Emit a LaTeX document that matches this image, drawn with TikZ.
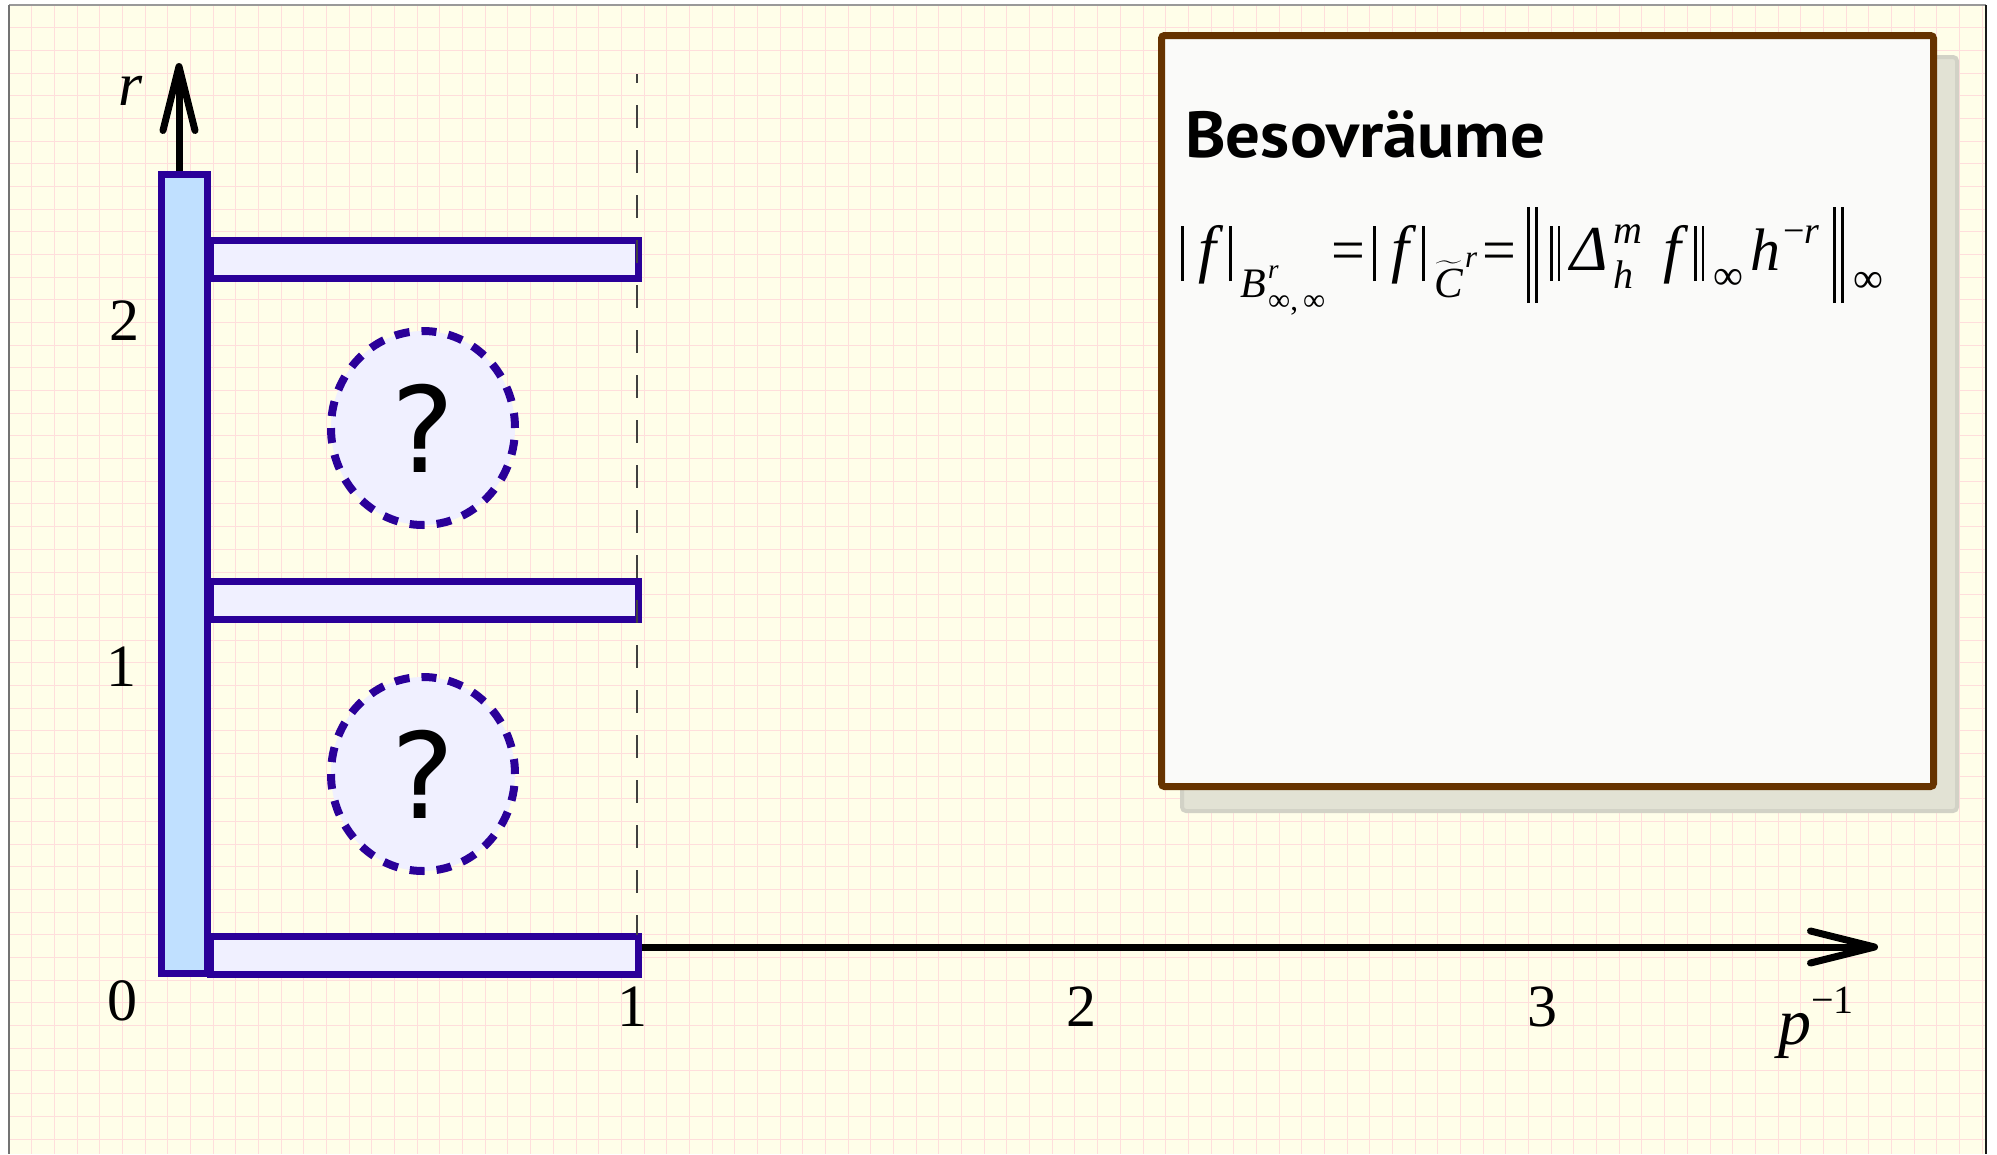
\documentclass[tikz,border=0pt]{standalone}
\usepackage{fix-cm}
\usepackage{amsmath}
\usepackage{fontspec}
\setmainfont{Liberation Serif}
\newfontfamily\titlefont{PT Sans}[FakeStretch=1.06]
\newfontfamily\qfont{DejaVu Sans}
\usetikzlibrary{arrows.meta,shapes.geometric}
\definecolor{cream}{HTML}{FFFEE9}
\definecolor{gridpink}{HTML}{FFDEDC}
\definecolor{indigo}{HTML}{2A0099}
\definecolor{lightblue}{HTML}{C0E0FF}
\definecolor{lavender}{HTML}{F0F0FF}
\definecolor{brown}{HTML}{663300}
\definecolor{boxfill}{HTML}{FAFAF9}
\definecolor{shadowfill}{HTML}{E2E2D4}
\definecolor{shadowline}{HTML}{D2D2C6}
\newcommand\fsz[1]{\fontsize{#1}{#1}\selectfont}
\newcommand\nbar{\rule[-11pt]{2.4pt}{55pt}}
\newcommand\dnbar{\rule[-11pt]{2.4pt}{55pt}\kern5pt\rule[-11pt]{2.4pt}{55pt}}
\newcommand\bignbar{\rule[-33pt]{2.4pt}{96pt}\kern5.5pt\rule[-33pt]{2.4pt}{96pt}}
\newcommand\putat[3]{\rlap{\kern#1pt\raisebox{#2pt}{#3}}}
\tikzset{
  gridline/.style={draw=gridpink, line width=1pt},
  vbarbox/.style={rectangle, draw=indigo, fill=lightblue, line width=7pt, inner sep=0pt, minimum width=46pt, minimum height=799pt},
  hbarbox/.style={rectangle, draw=indigo, fill=lavender, line width=7pt, inner sep=0pt, minimum width=428pt, minimum height=38pt},
  qcirc/.style={ellipse, draw=indigo, fill=lavender, line width=8pt, dash pattern=on 15pt off 12pt, inner sep=0pt, minimum width=184pt, minimum height=194pt, font=\qfont\fontsize{119}{119}\selectfont},
  axisarrow/.style={line width=7pt, -{Straight Barb[length=64pt,width=32pt,round]}},
  ticklabel/.style={inner sep=0pt, font=\fontsize{60}{60}\selectfont},
  dline/.style={draw=black!75, line width=1.5pt, dash pattern=on 23pt off 22pt, dash phase=14pt},
  infobox/.style={rectangle, draw=brown, fill=boxfill, line width=7pt, rounded corners=3pt, inner sep=0pt, minimum width=772pt, minimum height=751pt}
}
\begin{document}
\begin{tikzpicture}[x=1pt,y=-1pt]
\useasboundingbox (0,0) rectangle (1997,1154);
\fill[white] (0,0) rectangle (1997,1154);
\fill[cream] (9,5) rectangle (1986,1154);
\foreach \i in {1,...,87} \draw[gridline] ({9+22.68*\i},5) -- ({9+22.68*\i},1154);
\foreach \j in {1,...,50} \draw[gridline] (9,{5+22.68*\j}) -- (1986,{5+22.68*\j});
% frame
\draw[black!40, line width=2pt] (9,5) -- (1986,5);
\draw[black!55, line width=2.5pt] (9,5) -- (9,1154);
\draw[black!90, line width=2.5pt] (1986,5) -- (1986,1154);

% info box with shadow
\draw[fill=shadowfill, draw=shadowline, line width=4pt, rounded corners=4pt] (1182,57) rectangle (1957,811);
\node[infobox] (box) at (1547.5,411) {};
\node[anchor=base west, inner sep=0pt, font=\titlefont\bfseries\fontsize{65}{70}\selectfont] (title) at (1185,157) {Besovräume};
\node[anchor=base west, inner sep=0pt, font=\fsz{64}\itshape] (formula) at (1178,270)
  {\putat{3}{0}{\nbar}%
   \putat{20}{0}{f}%
   \putat{51}{0}{\nbar}%
   \putat{62}{-27}{\fsz{42}B}%
   \putat{90}{-8}{\fsz{27}r}%
   \putat{90}{-40}{\fsz{31}\upshape ∞,\kern5pt∞}%
   \putat{153}{0}{\fsz{60}\upshape =}%
   \putat{195}{0}{\nbar}%
   \putat{213}{0}{f}%
   \putat{244}{0}{\nbar}%
   \putat{256}{-27}{\fsz{43}$\widetilde{\textit{C}}$}%
   \putat{287}{3}{\fsz{31}r}%
   \putat{304}{0}{\fsz{60}\upshape =}%
   \putat{349}{0}{\bignbar}%
   \putat{372}{0}{\dnbar}%
   \putat{392}{0}{Δ}%
   \putat{435}{27}{\fsz{40}m}%
   \putat{435}{-18}{\fsz{40}h}%
   \putat{485}{0}{f}%
   \putat{516}{0}{\dnbar}%
   \putat{535}{-19}{\fsz{42}\upshape ∞}%
   \putat{572}{0}{\fsz{60}h}%
   \putat{605}{27}{\fsz{38}\upshape −\itshape r}%
   \putat{655}{0}{\bignbar}%
   \putat{675}{-22}{\fsz{42}\upshape ∞}%
   \kern704pt};

% bars
\node[vbarbox] (vbar) at (184.5,574) {};
\node[hbarbox] (topbar) at (424.5,259.5) {};
\node[hbarbox] (midbar) at (424.5,600) {};
\node[hbarbox] (botbar) at (424.5,955) {};

% question circles
\node[qcirc] (q1) at (423,428) {?};
\node[qcirc] (q2) at (423,774) {?};

% dashed line p^{-1}=1
\coordinate (dtop) at (637,74);
\coordinate (dbot) at (637,935);
\draw[dline] (dtop) -- (dbot);

% axes
\coordinate (yfoot) at (179,171);
\coordinate (ytip) at (179,63);
\draw[axisarrow] (yfoot) -- (ytip);
\coordinate (xfoot) at (642,947);
\coordinate (xtip) at (1878,947);
\draw[axisarrow] (xfoot) -- (xtip);

% labels
\node[ticklabel] (l0) at (122,1001) {0};
\node[ticklabel] (lx1) at (632,1007) {1};
\node[ticklabel] (lx2) at (1081,1007) {2};
\node[ticklabel] (lx3) at (1542,1007) {3};
\node[ticklabel] (ly1) at (121,667) {1};
\node[ticklabel] (ly2) at (124,321) {2};
\node[anchor=base, inner sep=0pt, font=\fontsize{62}{62}\selectfont\itshape] (rlab) at (131,105) {r};
\node[anchor=base west, inner sep=0pt] (plab) at (1778,1044)
  {{\fontsize{66}{66}\selectfont\itshape p}\raisebox{31pt}{\fontsize{40}{40}\selectfont −1}};
\end{tikzpicture}
\end{document}
